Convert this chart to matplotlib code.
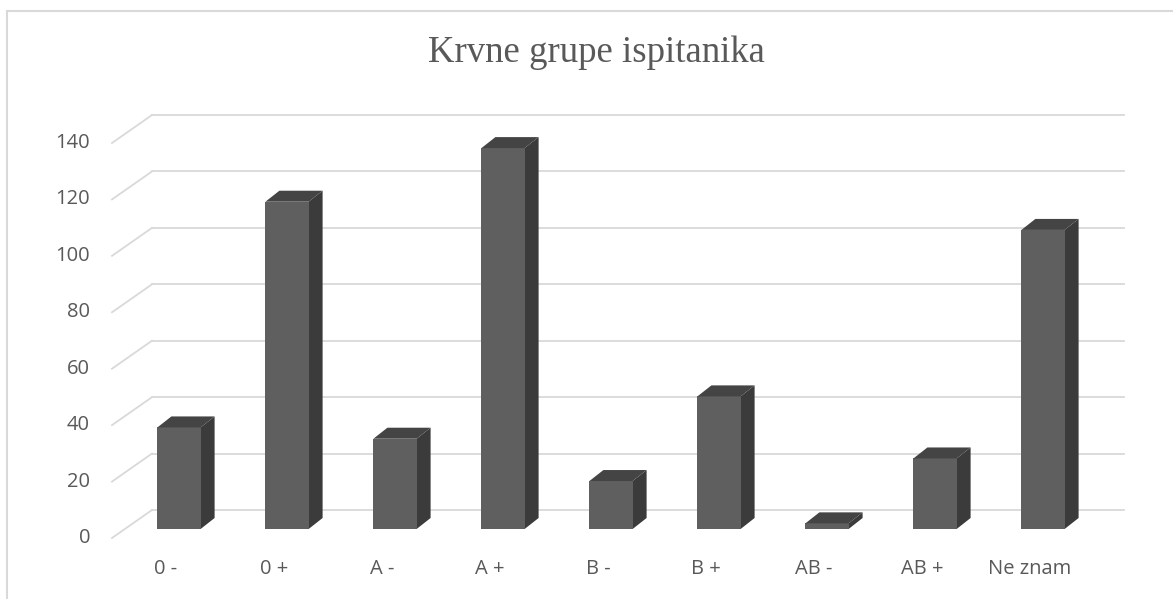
import matplotlib
matplotlib.use('Agg')
import matplotlib.pyplot as plt
from matplotlib.patches import Polygon
from matplotlib.lines import Line2D
from matplotlib.transforms import ScaledTranslation, IdentityTransform

categories = ['0 -', '0 +', 'A -', 'A +', 'B -', 'B +', 'AB -', 'AB +', 'Ne znam']
counts = [36, 116, 32, 135, 17, 47, 2, 25, 106]
yticks = [0, 20, 40, 60, 80, 100, 120, 140]
title = 'Krvne grupe ispitanika'

W, H = 1173, 599
DPI = 100
fig = plt.figure(figsize=(W / DPI, H / DPI), dpi=DPI)
# axes = plane of the bar front faces (pixels measured from top-left)
left_px, right_px, bot_px, top_px = 125, 1097, 529, 134
ax = fig.add_axes([left_px / W, (H - bot_px) / H,
                   (right_px - left_px) / W, (bot_px - top_px) / H])
ax.set_xlim(-0.5, len(categories) - 0.5)
ax.set_ylim(0, 140)
ax.axis('off')

text_col = '#595959'
grid_col = '#d9d9d9'
front_col = '#5f5f5f'
side_col = '#3b3b3b'
top_col = '#444444'


def shifted(dx, dy):
    # dx right, dy down, in pixels
    return ax.transData + ScaledTranslation(dx / DPI, -dy / DPI, fig.dpi_scale_trans)


def px(x, y):
    return ax.transData.transform((x, y))


x0, x1 = ax.get_xlim()
back = (27, -19)
front = (-13, 9)

# back wall gridlines and floor diagonals
for v in yticks:
    ax.plot([x0, x1], [v, v], color=grid_col, lw=1.3, transform=shifted(*back),
            clip_on=False, zorder=1)
    p = px(x0, v)
    ax.add_line(Line2D([p[0] + front[0], p[0] + back[0]],
                       [p[1] - front[1], p[1] - back[1]],
                       color=grid_col, lw=1.3, transform=IdentityTransform(),
                       clip_on=False, zorder=1))
    ax.text(x0, v, str(v), transform=shifted(-35, 9), ha='right', va='center',
            fontsize=14.5, color=text_col, family='Open Sans')

# 3D-looking bars
bw = 0.4
ddx, ddy = 14, 11
for i, v in enumerate(counts):
    ax.bar(i, v, width=bw, color=front_col, zorder=3)
    l0 = px(i - bw / 2, 0)
    r0 = px(i + bw / 2, 0)
    r1 = px(i + bw / 2, v)
    l1 = px(i - bw / 2, v)
    side = [r0, r1, (r1[0] + ddx, r1[1] + ddy), (r0[0] + ddx, r0[1] + ddy)]
    top = [l1, r1, (r1[0] + ddx, r1[1] + ddy), (l1[0] + ddx, l1[1] + ddy)]
    ax.add_patch(Polygon(side, closed=True, facecolor=side_col, edgecolor='none',
                         transform=IdentityTransform(), clip_on=False, zorder=2))
    ax.add_patch(Polygon(top, closed=True, facecolor=top_col, edgecolor='none',
                         transform=IdentityTransform(), clip_on=False, zorder=4))
    ax.text(i, 0, categories[i], transform=shifted(-13, 40), ha='center', va='center',
            fontsize=14.5, color=text_col, family='Open Sans')

fig.text(596 / W, 1 - 53 / H, title, ha='center', va='center', fontsize=26.5,
         color=text_col, family='Liberation Serif')

# chart border (left and top visible)
fig.add_artist(Line2D([7, 7], [0, H - 11], color=grid_col, lw=1.5,
                      transform=IdentityTransform()))
fig.add_artist(Line2D([7, W], [H - 11, H - 11], color=grid_col, lw=1.5,
                      transform=IdentityTransform()))

fig.savefig('out.png', dpi=DPI)
